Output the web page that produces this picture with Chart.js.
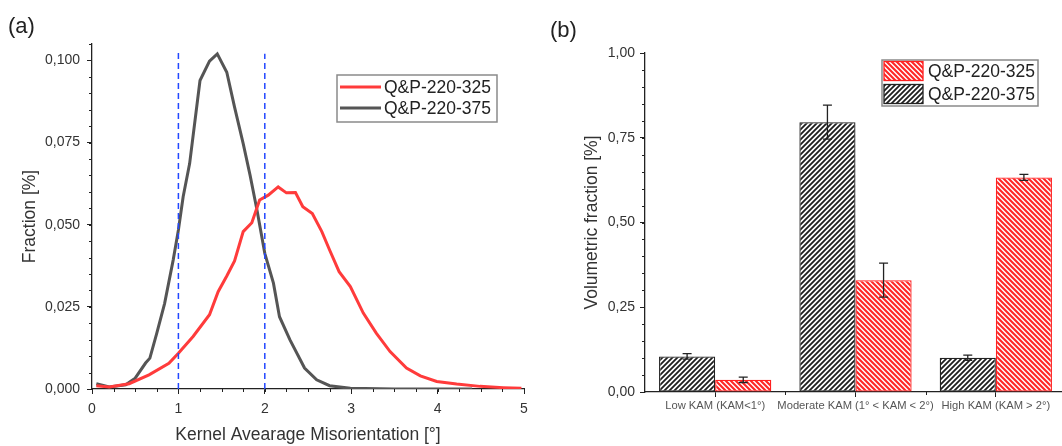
<!DOCTYPE html>
<html lang="en">
<head>
  <meta charset="UTF-8" />
  <title>KAM distribution - Q&amp;P-220</title>
  <script src="https://cdn.jsdelivr.net/npm/chart.js"></script>
  <style>
    * {
      margin: 0;
      padding: 0;
      box-sizing: border-box;
    }

    html, body {
      width: 1062px;
      height: 446px;
      overflow: hidden;
      background: #fff;
    }

    body {
      position: relative;
      font-family: 'Liberation Sans', Arial, sans-serif;
      color: #222;
    }

    .panel {
      position: absolute;
      top: 0;
      height: 446px;
    }

    #panelA { left: 0; width: 540px; }
    #panelB { left: 540px; width: 526px; }

    .tag {
      position: absolute;
      font-size: 22px;
      line-height: 1;
    }
  </style>
</head>
<body>

  <div class="panel" id="panelA"><canvas id="kamLine"></canvas></div>
  <div class="panel" id="panelB"><canvas id="kamBar"></canvas></div>
  <div class="tag" style="left:8px; top:15px;">(a)</div>
  <div class="tag" style="left:550px; top:19px;">(b)</div>

  <script>
    // (a) KAM distribution
    const redKam = [0.05, 0.2, 0.43, 0.66, 0.89, 1.0, 1.17, 1.36, 1.46, 1.56, 1.65, 1.75, 1.85, 1.94, 2.04, 2.155, 2.25, 2.355, 2.44, 2.55, 2.66, 2.75, 2.86, 2.99, 3.14, 3.29, 3.45, 3.64, 3.8, 3.99, 4.22, 4.49, 4.76, 4.97];
    const redFrac = [0.0010, 0.0006, 0.0016, 0.0043, 0.0078, 0.0109, 0.0160, 0.0226, 0.0296, 0.0344, 0.0390, 0.0479, 0.0506, 0.0575, 0.0590, 0.0615, 0.0597, 0.0598, 0.0555, 0.0534, 0.0479, 0.0423, 0.0357, 0.0312, 0.0231, 0.0170, 0.0114, 0.0064, 0.0040, 0.0023, 0.0015, 0.0008, 0.0004, 0.0002];

    const grayKam = [0.05, 0.2, 0.39, 0.5, 0.62, 0.67, 0.75, 0.84, 0.94, 1.0, 1.055, 1.13, 1.25, 1.36, 1.45, 1.56, 1.65, 1.75, 1.83, 1.91, 2.0, 2.1, 2.17, 2.29, 2.46, 2.6, 2.75, 2.99, 3.5, 4.0, 4.4];
    const grayFrac = [0.0016, 0.0006, 0.0013, 0.0033, 0.0079, 0.0094, 0.0170, 0.0260, 0.0393, 0.0484, 0.0585, 0.0686, 0.0939, 0.0998, 0.1020, 0.0964, 0.0858, 0.0747, 0.0650, 0.0544, 0.0413, 0.0322, 0.0220, 0.0150, 0.0064, 0.0028, 0.0010, 0.0002, 0, 0, 0];

    // dashed limits at 1° and 2°
    const limitKam = [1, 2];
    const limitTop = [0.103, 0.102];

    // (b) volumetric fractions per KAM class
    const kamClasses = ['Low KAM (KAM<1°)', 'Moderate KAM (1° < KAM < 2°)', 'High KAM (KAM > 2°)'];
    const vol375 = [0.105, 0.796, 0.101];
    const err375 = [0.008, 0.050, 0.008];
    const vol325 = [0.036, 0.330, 0.633];
    const err325 = [0.008, 0.050, 0.009];

    const sampleNames = ['Q&P-220-325', 'Q&P-220-375'];

    const RED = '#ff3b3b';
    const GRAY = '#555555';
    const INK = '#222222';
    const FONT = "'Liberation Sans', Arial, sans-serif";

    Chart.defaults.font.family = FONT;
    Chart.defaults.color = '#333';

    function hatch(color, dir, lw) {
      const s = 5;
      const c = document.createElement('canvas');
      c.width = s; c.height = s;
      const g = c.getContext('2d');
      g.fillStyle = '#fff';
      g.fillRect(0, 0, s, s);
      g.strokeStyle = color;
      g.lineWidth = lw;
      g.beginPath();
      if (dir > 0) { // '/'
        g.moveTo(-1, s + 1); g.lineTo(s + 1, -1);
        g.moveTo(-1, 1); g.lineTo(1, -1);
        g.moveTo(s - 1, s + 1); g.lineTo(s + 1, s - 1);
      } else { // '\'
        g.moveTo(-1, -1); g.lineTo(s + 1, s + 1);
        g.moveTo(s - 1, -1); g.lineTo(s + 1, 1);
        g.moveTo(-1, s - 1); g.lineTo(1, s + 1);
      }
      g.stroke();
      return g.createPattern(c, 'repeat');
    }

    const redHatch = hatch('#ff2626', -1, 2.1);
    const blackHatch = hatch('#1e1e1e', 1, 1.8);

    // short minor ticks between the major ones
    const minorTicks = {
      id: 'minorTicks',
      afterDraw(chart, args, opts) {
        const ctx = chart.ctx;
        ctx.save();
        ctx.strokeStyle = INK;
        ctx.lineWidth = 1;
        (opts.axes || []).forEach(a => {
          const sc = chart.scales[a.id];
          let px = [];
          if (a.between) {
            for (let i = 0; i < sc.ticks.length - 1; i++) {
              px.push((sc.getPixelForValue(i) + sc.getPixelForValue(i + 1)) / 2);
            }
          } else {
            const n = Math.round((a.to - a.from) / a.step);
            for (let i = 0; i <= n; i++) px.push(sc.getPixelForValue(a.from + i * a.step));
          }
          ctx.beginPath();
          px.forEach(p => {
            const q = Math.round(p) + 0.5;
            if (sc.isHorizontal()) {
              ctx.moveTo(q, sc.top); ctx.lineTo(q, sc.top + a.len);
            } else {
              ctx.moveTo(sc.right, q); ctx.lineTo(sc.right - a.len, q);
            }
          });
          ctx.stroke();
        });
        ctx.restore();
      }
    };

    // framed legend placed inside the plot
    const boxLegend = {
      id: 'boxLegend',
      afterDraw(chart, args, o) {
        const ctx = chart.ctx;
        const ds = chart.data.datasets;
        ctx.save();
        ctx.strokeStyle = '#8a8a8a';
        ctx.lineWidth = 1.5;
        ctx.strokeRect(o.x, o.y, o.w, o.h);
        ctx.font = o.font;
        ctx.fillStyle = INK;
        ctx.textBaseline = 'middle';
        o.order.forEach((idx, r) => {
          const d = ds[idx];
          const cy = o.y + o.first + r * o.rowH;
          if (o.kind === 'line') {
            ctx.strokeStyle = d.borderColor;
            ctx.lineWidth = d.borderWidth;
            ctx.beginPath();
            ctx.moveTo(o.x + 3, cy); ctx.lineTo(o.x + 3 + o.sample, cy);
            ctx.stroke();
          } else {
            ctx.fillStyle = d.backgroundColor;
            ctx.fillRect(o.x + 2, cy - o.swH / 2, o.sample, o.swH);
            ctx.strokeStyle = d.borderColor;
            ctx.lineWidth = 1.3;
            ctx.strokeRect(o.x + 2, cy - o.swH / 2, o.sample, o.swH);
            ctx.fillStyle = INK;
          }
          ctx.fillText(d.label, o.x + o.textX, cy + 1);
        });
        ctx.restore();
      }
    };

    // error bars from each dataset's errors array
    const errorBars = {
      id: 'errorBars',
      afterDatasetsDraw(chart) {
        const ctx = chart.ctx;
        const y = chart.scales.y;
        ctx.save();
        ctx.strokeStyle = INK;
        ctx.lineWidth = 1.3;
        chart.data.datasets.forEach((d, i) => {
          const meta = chart.getDatasetMeta(i);
          meta.data.forEach((bar, j) => {
            const v = d.data[j], e = d.errors[j];
            const top = y.getPixelForValue(v + e);
            const bot = y.getPixelForValue(v - e);
            ctx.beginPath();
            ctx.moveTo(bar.x, top); ctx.lineTo(bar.x, bot);
            ctx.moveTo(bar.x - 4.5, top); ctx.lineTo(bar.x + 4.5, top);
            ctx.moveTo(bar.x - 4.5, bot); ctx.lineTo(bar.x + 4.5, bot);
            ctx.stroke();
          });
        });
        ctx.restore();
      }
    };

    const toXY = (xs, ys) => xs.map((x, i) => ({ x: x, y: ys[i] }));
    const comma = (v, n) => Number(v).toFixed(n).replace('.', ',');

    function axisStyle() {
      return {
        grid: { display: true, drawOnChartArea: false, drawTicks: true, tickLength: 5, tickColor: INK, tickWidth: 1 },
        border: { display: true, color: INK, width: 1.3 }
      };
    }

    // ---- panel (a)
    const limitSets = limitKam.map((k, i) => ({
      label: 'limit ' + k,
      data: [{ x: k, y: 0 }, { x: k, y: limitTop[i] }],
      borderColor: '#2347ff',
      borderWidth: 1.5,
      borderDash: [6, 4],
      pointRadius: 0,
      order: -1
    }));

    new Chart(document.getElementById('kamLine'), {
      type: 'line',
      data: {
        datasets: [
          {
            label: sampleNames[0],
            data: toXY(redKam, redFrac),
            borderColor: RED,
            borderWidth: 3,
            pointRadius: 0,
            tension: 0
          },
          {
            label: sampleNames[1],
            data: toXY(grayKam, grayFrac),
            borderColor: GRAY,
            borderWidth: 3,
            pointRadius: 0,
            tension: 0
          }
        ].concat(limitSets)
      },
      options: {
        responsive: true,
        maintainAspectRatio: false,
        animation: false,
        layout: { autoPadding: false, padding: { left: 0, top: 44, right: 16, bottom: 0 } },
        plugins: {
          legend: { display: false },
          tooltip: { enabled: false },
          boxLegend: { x: 337, y: 75, w: 160, h: 47, first: 12, rowH: 21, order: [0, 1], kind: 'line', sample: 41, textX: 47, font: '17.5px ' + FONT },
          minorTicks: { axes: [
            { id: 'x', from: 0, to: 5, step: 0.25, len: 3 },
            { id: 'y', from: 0, to: 0.105, step: 0.005, len: 3 }
          ] }
        },
        scales: {
          x: Object.assign(axisStyle(), {
            type: 'linear',
            min: 0,
            max: 5,
            afterFit: s => { s.height = 57; },
            ticks: { stepSize: 1, padding: 7, font: { size: 14 }, color: '#333' },
            title: { display: true, text: 'Kernel Avearage Misorientation [°]', color: '#333', font: { size: 17.5 }, padding: { top: 0, bottom: 0 } }
          }),
          y: Object.assign(axisStyle(), {
            min: 0,
            max: 0.105,
            afterFit: s => { s.width = 92; },
            ticks: { stepSize: 0.025, includeBounds: false, padding: 7, font: { size: 14 }, color: '#333', callback: v => comma(v, 3) },
            title: { display: true, text: 'Fraction [%]', color: '#333', font: { size: 17.5 }, padding: { top: 20, bottom: 0 } }
          })
        }
      },
      plugins: [minorTicks, boxLegend]
    });

    // ---- panel (b)
    new Chart(document.getElementById('kamBar'), {
      type: 'bar',
      data: {
        labels: kamClasses,
        datasets: [
          {
            label: sampleNames[1],
            data: vol375,
            errors: err375,
            backgroundColor: blackHatch,
            borderColor: INK,
            borderWidth: 1.3,
            borderSkipped: false
          },
          {
            label: sampleNames[0],
            data: vol325,
            errors: err325,
            backgroundColor: redHatch,
            borderColor: '#ff2020',
            borderWidth: 1.3,
            borderSkipped: false
          }
        ]
      },
      options: {
        responsive: true,
        maintainAspectRatio: false,
        animation: false,
        categoryPercentage: 0.8,
        barPercentage: 1.0,
        layout: { autoPadding: false, padding: { left: 0, top: 53, right: 0, bottom: 0 } },
        plugins: {
          legend: { display: false },
          tooltip: { enabled: false },
          boxLegend: { x: 342, y: 60, w: 156, h: 46, first: 11, rowH: 23, order: [1, 0], kind: 'box', sample: 39, swH: 19, textX: 46, font: '17.5px ' + FONT },
          minorTicks: { axes: [
            { id: 'x', between: true, len: 3 },
            { id: 'y', from: 0, to: 1, step: 0.05, len: 3 }
          ] }
        },
        scales: {
          x: Object.assign(axisStyle(), {
            offset: true,
            afterFit: s => { s.height = 54; },
            ticks: { padding: 2, font: { size: 11.2 }, color: '#555', maxRotation: 0, autoSkip: false }
          }),
          y: Object.assign(axisStyle(), {
            min: 0,
            max: 1,
            afterFit: s => { s.width = 105; },
            ticks: { stepSize: 0.25, padding: 5, font: { size: 14 }, color: '#333', callback: v => comma(v, 2) },
            title: { display: true, text: 'Volumetric fraction [%]', color: '#333', font: { size: 17.5 }, padding: { top: 42, bottom: 0 } }
          })
        }
      },
      plugins: [minorTicks, boxLegend, errorBars]
    });
    // category grid marks sit on the bars' centre
    Chart.getChart('kamBar').options.scales.x.grid.offset = false;
    Chart.getChart('kamBar').update('none');
  </script>
</body>
</html>
